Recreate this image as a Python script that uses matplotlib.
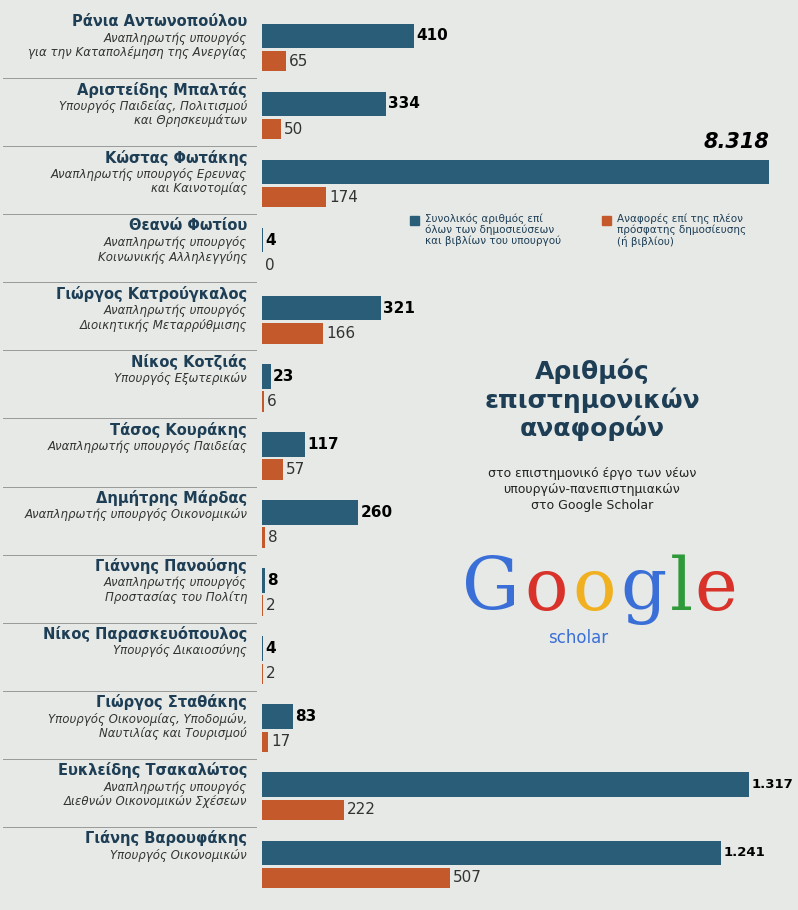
import matplotlib
matplotlib.use("Agg")
import matplotlib.pyplot as plt
from matplotlib.lines import Line2D
from matplotlib.patches import Rectangle

names = ["Ράνια Αντωνοπούλου", "Αριστείδης Μπαλτάς", "Κώστας Φωτάκης", "Θεανώ Φωτίου",
         "Γιώργος Κατρούγκαλος", "Νίκος Κοτζιάς", "Τάσος Κουράκης", "Δημήτρης Μάρδας",
         "Γιάννης Πανούσης", "Νίκος Παρασκευόπουλος", "Γιώργος Σταθάκης",
         "Ευκλείδης Τσακαλώτος", "Γιάνης Βαρουφάκης"]
roles = ["Αναπληρωτής υπουργός\nγια την Καταπολέμηση της Ανεργίας",
         "Υπουργός Παιδείας, Πολιτισμού\nκαι Θρησκευμάτων",
         "Αναπληρωτής υπουργός Ερευνας\nκαι Καινοτομίας",
         "Αναπληρωτής υπουργός\nΚοινωνικής Αλληλεγγύης",
         "Αναπληρωτής υπουργός\nΔιοικητικής Μεταρρύθμισης",
         "Υπουργός Εξωτερικών",
         "Αναπληρωτής υπουργός Παιδείας",
         "Αναπληρωτής υπουργός Οικονομικών",
         "Αναπληρωτής υπουργός\nΠροστασίας του Πολίτη",
         "Υπουργός Δικαιοσύνης",
         "Υπουργός Οικονομίας, Υποδομών,\nΝαυτιλίας και Τουρισμού",
         "Αναπληρωτής υπουργός\nΔιεθνών Οικονομικών Σχέσεων",
         "Υπουργός Οικονομικών"]
total_citations = [410, 334, 8318, 4, 321, 23, 117, 260, 8, 4, 83, 1317, 1241]
recent_citations = [65, 50, 174, 0, 166, 6, 57, 8, 2, 2, 17, 222, 507]

BLUE = "#2a5d78"
ORANGE = "#c4592c"
BG = "#e6e9e6"

def fmt(v):
    return f"{v:,}".replace(",", ".")

fig = plt.figure(figsize=(7.98, 9.10), dpi=100, facecolor=BG)
ax = fig.add_axes([262/798, 1-895/910, 507/798, 885/910])
ax.set_facecolor("none")
n = len(names)
ax.set_xlim(0, 1370)
ax.set_ylim(n - 0.5, -0.5)
ax.axis("off")

ys = list(range(n))
yb = [y - 0.12 for y in ys]
yo = [y + 0.25 for y in ys]
ax.barh(yb, total_citations, height=0.36, color=BLUE)
ax.barh(yo, recent_citations, height=0.30, color=ORANGE)

for i in range(n):
    t = total_citations[i]
    if t > 1370:
        ax.text(1370, yb[i] - 0.3, fmt(t), ha="right", va="bottom", fontsize=15,
                fontweight="bold", fontstyle="italic")
    else:
        fs = 9.5 if t >= 1000 else 11
        ax.text(t + 6, yb[i], fmt(t), ha="left", va="center", fontsize=fs, fontweight="bold")
    r = recent_citations[i]
    ax.text(r + 8, yo[i], fmt(r), ha="left", va="center", fontsize=11, color="#333333")
    ax.text(-40, i - 0.33, names[i], ha="right", va="center", fontsize=10.5,
            fontweight="bold", color="#1e3e55", clip_on=False)
    ax.text(-40, i - 0.18, roles[i], ha="right", va="top", fontsize=8.5,
            fontstyle="italic", color="#333333", linespacing=1.15, clip_on=False)
    if i < n - 1:
        ax.add_line(Line2D([-700, -15], [i + 0.5, i + 0.5], color="#999999", lw=0.7,
                           clip_on=False))

# legend
fig.patches.append(Rectangle((410/798, 1-225/910), 9/798, 9/910, transform=fig.transFigure,
                             color=BLUE))
fig.text(425/798, 1-213/910, "Συνολικός αριθμός επί\nόλων των δημοσιεύσεων\nκαι βιβλίων του υπουργού",
         fontsize=7.5, va="top", color="#1e3e55", linespacing=1.1)
fig.patches.append(Rectangle((602/798, 1-225/910), 9/798, 9/910, transform=fig.transFigure,
                             color=ORANGE))
fig.text(617/798, 1-213/910, "Αναφορές επί της πλέον\nπρόσφατης δημοσίευσης\n(ή βιβλίου)",
         fontsize=7.5, va="top", color="#1e3e55", linespacing=1.1)

# title
fig.text(592/798, 1-400/910, "Αριθμός\nεπιστημονικών\nαναφορών", ha="center", va="center",
         fontsize=18, fontweight="bold", color="#1e3e55", linespacing=1.15)
fig.text(592/798, 1-490/910, "στο επιστημονικό έργο των νέων\nυπουργών-πανεπιστημιακών\nστο Google Scholar",
         ha="center", va="center", fontsize=9, color="#222222", linespacing=1.3)

# logo
letters = [("G", "#3a6fd8", 462), ("o", "#d8322a", 524), ("o", "#f0b020", 572),
           ("g", "#3a6fd8", 620), ("l", "#2f9a3a", 670), ("e", "#d8322a", 694)]
for ch, col, x in letters:
    fig.text(x/798, 1-590/910, ch, fontsize=52, color=col, va="center", ha="left",
             family="DejaVu Serif")
fig.text(548/798, 1-638/910, "scholar", fontsize=12, color="#3a6fd8", ha="left", va="center")

fig.savefig("out.png", dpi=100, facecolor=BG)
